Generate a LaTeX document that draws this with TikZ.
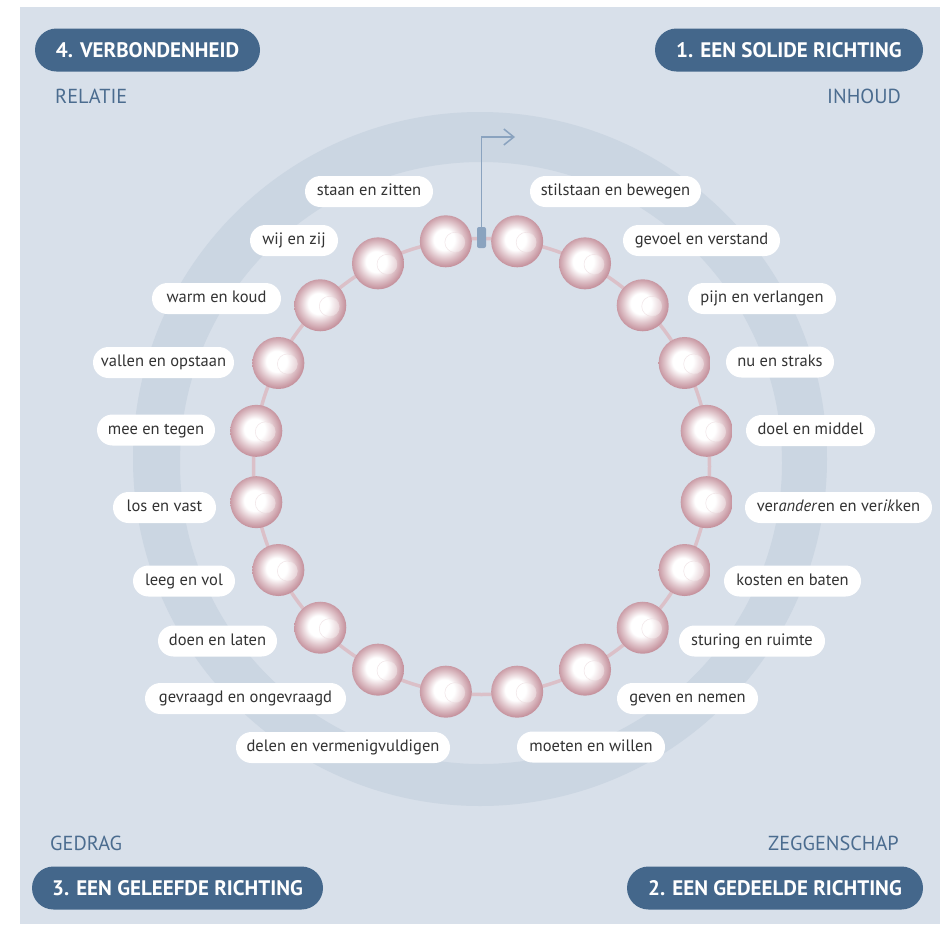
\documentclass[tikz,border=0pt]{standalone}
\usepackage{fontspec}
\setmainfont{PT Sans}
\usetikzlibrary{arrows.meta,positioning}
\definecolor{Achtergrond}{HTML}{D8E0EA}
\definecolor{Ringblauw}{HTML}{CBD6E2}
\definecolor{Kopblauw}{HTML}{44678B}
\definecolor{Subblauw}{HTML}{4B6C8F}
\definecolor{Tekstgrijs}{HTML}{333333}
\definecolor{Snoerroze}{HTML}{DBC0C8}
\definecolor{Kraalroze}{HTML}{C6949F}
\definecolor{Streepblauw}{HTML}{8AA3BF}
\pgfdeclareradialshading{kraalglans}{\pgfpoint{-2bp}{2bp}}{%
  color(0bp)=(white); color(10bp)=(white);
  color(18bp)=(Kraalroze!55!white); color(25bp)=(Kraalroze);
  color(50bp)=(Kraalroze)}
\tikzset{
  kraal/.style   = {circle, minimum size=52pt, inner sep=0pt, shading=kraalglans},
  glans/.style   = {circle, minimum size=20pt, inner sep=0pt, fill=white,
                    fill opacity=.35, draw=Kraalroze!35!white, draw opacity=.7,
                    line width=.5pt},
  etiket/.style  = {fill=white, text=Tekstgrijs, rounded corners=15.5pt,
                    minimum height=31pt, inner xsep=4pt, inner ysep=0pt,
                    text height=12pt, text depth=4pt,
                    font=\fontsize{16.5}{20}\selectfont},
  kop/.style     = {fill=Kopblauw, text=white, rounded corners=21.5pt,
                    minimum height=43pt, inner xsep=4pt,
                    font=\fontsize{21}{25}\selectfont\bfseries},
  sub/.style     = {text=Subblauw, inner sep=0pt,
                    font=\fontsize{20.3}{24}\selectfont},
  snoer/.style   = {draw=Snoerroze, line width=3.5pt},
  streep/.style  = {fill=Streepblauw, rounded corners=2pt, minimum width=9pt,
                    minimum height=21pt, inner sep=0pt},
  pijl/.style    = {draw=Streepblauw, line width=1.5pt,
                    -{Straight Barb[length=10pt,width=16pt]}},
}
\begin{document}
\begin{tikzpicture}[x=1pt,y=-1pt]
  \useasboundingbox (0,0) rectangle (940,924);
  \fill[Achtergrond] (20,7) rectangle (940,924);
  \fill[Ringblauw, even odd rule] (480,459) circle (347) (481,463) circle (301);
  \draw[snoer] (481.5,466.5) circle (228);
  % draad met pijl naar boven
  \node[streep] (streep) at (481.5,237.5) {};
  \coordinate (pijlpunt) at (515,137);
  \draw[pijl] (streep.north) |- (pijlpunt);
  % kralen
  \foreach \i in {1,...,20}{
    \pgfmathsetmacro{\hoek}{99-18*\i}
    \node[kraal] (k\i) at ({481.5+228*cos(\hoek)},{466.5-228*sin(\hoek)}) {};
    \node[glans] (g\i) at ([shift={(9,1)}]k\i.center) {};
  }
  % etiketten
  \foreach \n/\x/\y/\w/\t in {
      1/615.5/191.5/171/stilstaan en bewegen,
      2/701.5/240.5/157/gevoel en verstand,
      3/762/298.5/148/pijn en verlangen,
      4/780/362/108/nu en straks,
      5/810.5/430.5/129/doel en middel,
      6/838.5/507.5/187/{ver\textit{ander}en en ver\textit{ik}ken},
      7/792.5/581/137/kosten en baten,
      8/752/641/146/sturing en ruimte,
      9/687.5/698.5/141/geven en nemen,
      10/591/747/148/moeten en willen,
      11/343/747.5/214/delen en vermenigvuldigen,
      12/245.5/698.5/201/gevraagd en ongevraagd,
      13/217.5/641/119/doen en laten,
      14/184/581/102/leeg en vol,
      15/164.5/507.5/103/los en vast,
      16/156/430/118/mee en tegen,
      17/163.5/362.5/141/vallen en opstaan,
      18/216.5/298.5/129/warm en koud,
      19/294/240.5/88/wij en zij,
      20/369/191.5/128/staan en zitten}
    \node[etiket, minimum width=\w pt] (e\n) at (\x,\y) {\t};
  % hoeken
  \node[kop, minimum width=225pt] (verbonden) at (147.5,50) {4. VERBONDENHEID};
  \node[kop, minimum width=268pt] (solide) at (789,50) {1. EEN SOLIDE RICHTING};
  \node[kop, minimum width=291pt] (geleefd) at (177.5,888) {3. EEN GELEEFDE RICHTING};
  \node[kop, minimum width=296pt] (gedeeld) at (775,888) {2. EEN GEDEELDE RICHTING};
  \node[sub, anchor=base west] (relatie) at (55,103) {RELATIE};
  \node[sub, anchor=base east] (inhoud) at (901,103) {INHOUD};
  \node[sub, anchor=base west] (gedrag) at (50,850) {GEDRAG};
  \node[sub, anchor=base east] (zeggenschap) at (899,850) {ZEGGENSCHAP};
\end{tikzpicture}
\end{document}
